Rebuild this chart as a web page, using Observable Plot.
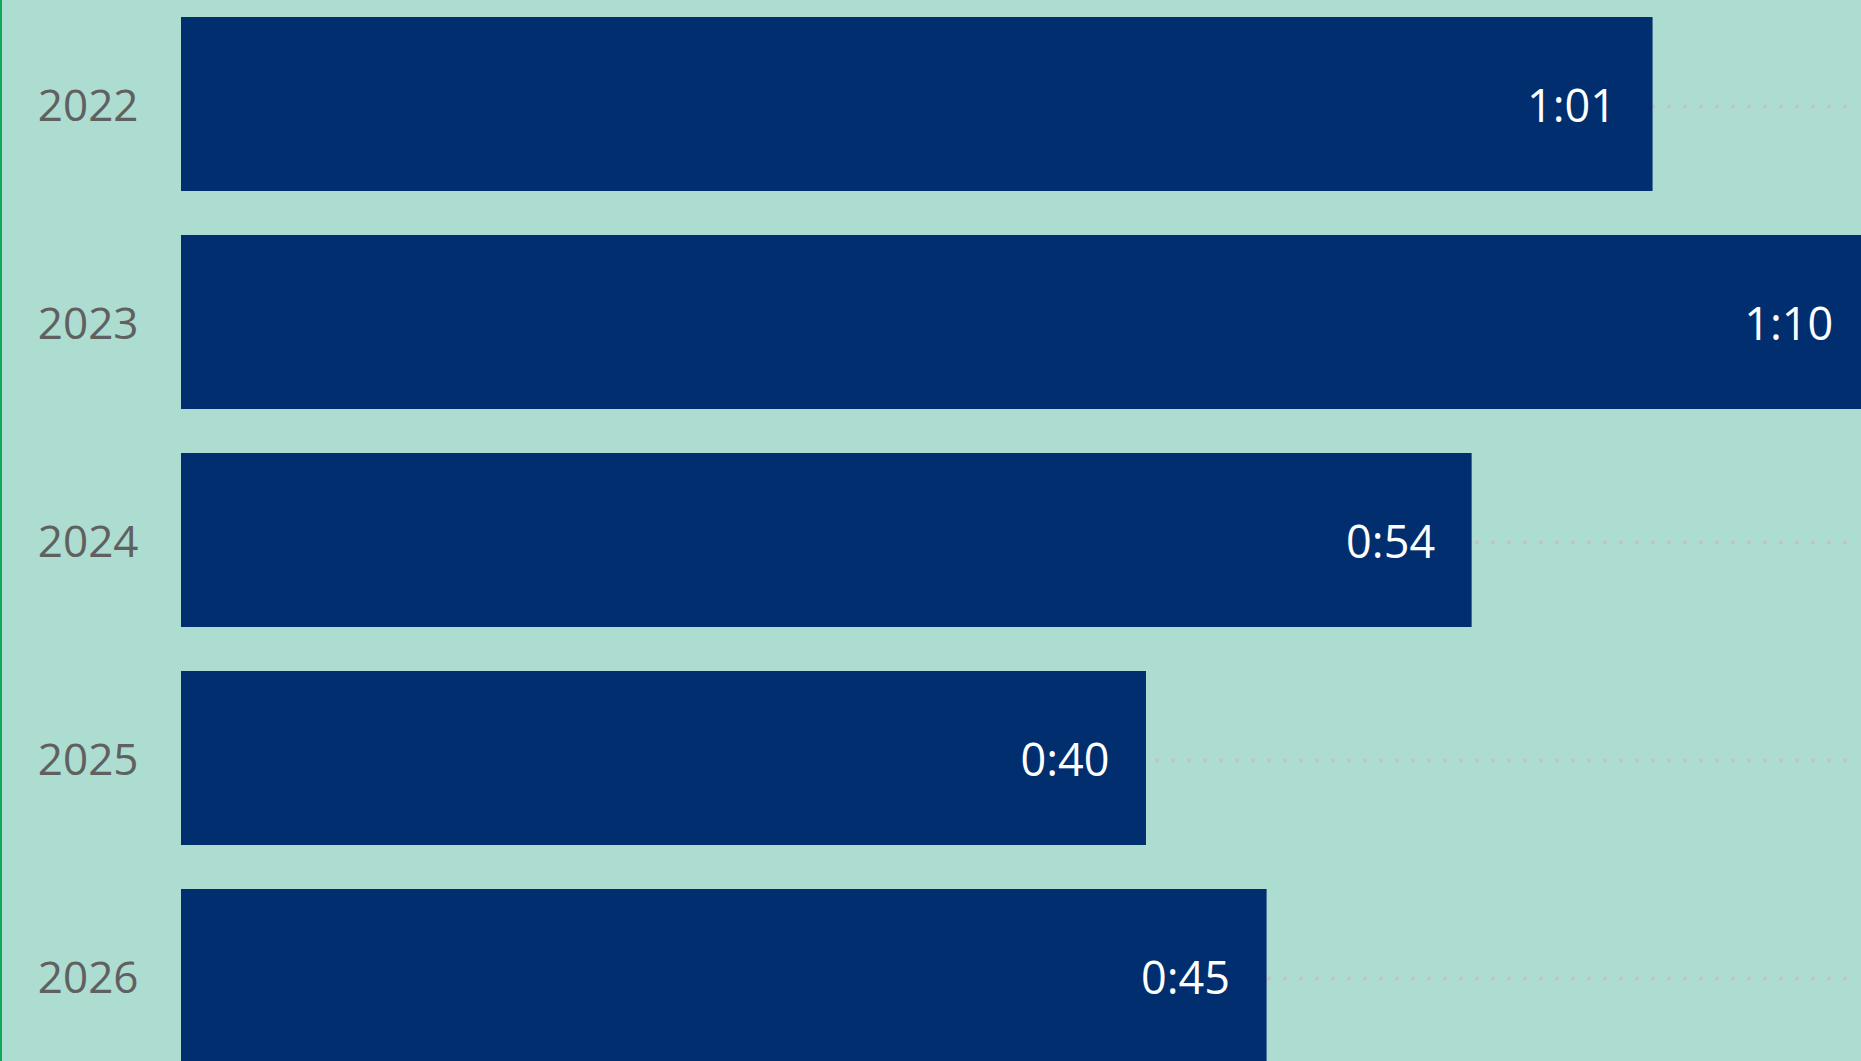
<!DOCTYPE html>
<html>
<head>
<meta charset="utf-8">
<script src="https://cdn.jsdelivr.net/npm/d3@7"></script>
<script src="https://cdn.jsdelivr.net/npm/@observablehq/plot@0.6"></script>
<style>
  html, body { margin: 0; padding: 0; background: #addcd0; }
  #wrap { position: relative; width: 1861px; height: 1061px; overflow: hidden; background: #addcd0; }
  #edge { position: absolute; left: 0; top: 0; width: 2px; height: 1061px; background: #10a85a; }
</style>
</head>
<body>
<div id="wrap"><div id="edge"></div></div>
<script>
const years = ["2022", "2023", "2024", "2025", "2026"];
const minutes = [61, 70, 53.5, 40, 45];
const valueLabels = ["1:01", "1:10", "0:54", "0:40", "0:45"];

const data = years.map((y, i) => ({year: y, value: minutes[i], label: valueLabels[i]}));

const chart = Plot.plot({
  width: 1861,
  height: 1061,
  marginLeft: 181,
  marginRight: 0,
  marginTop: 0,
  marginBottom: 0,
  style: {background: "transparent", fontFamily: "'Open Sans', sans-serif", color: "#606060"},
  x: {domain: [0, 69.64], axis: null},
  y: {domain: years, range: [-28.43, 1108.6], paddingInner: 0.2, paddingOuter: 0.2, label: null},
  marks: [
    Plot.ruleY(data, {y: "year", dy: 2, stroke: "#c9bec8", strokeWidth: 4, strokeDasharray: "0,16", strokeLinecap: "round", clip: true}),
    Plot.barX(data, {y: "year", x: "value", fill: "#002e6f", clip: true}),
    Plot.text(data, {y: "year", x: "value", text: "label", textAnchor: "end", dx: -37, dy: 3, fill: "white", fontSize: 45}),
    Plot.axisY({tickSize: 0, tickPadding: 43, fontSize: 44, dy: 2, label: null})
  ]
});
document.getElementById("wrap").appendChild(chart);
</script>
</body>
</html>
